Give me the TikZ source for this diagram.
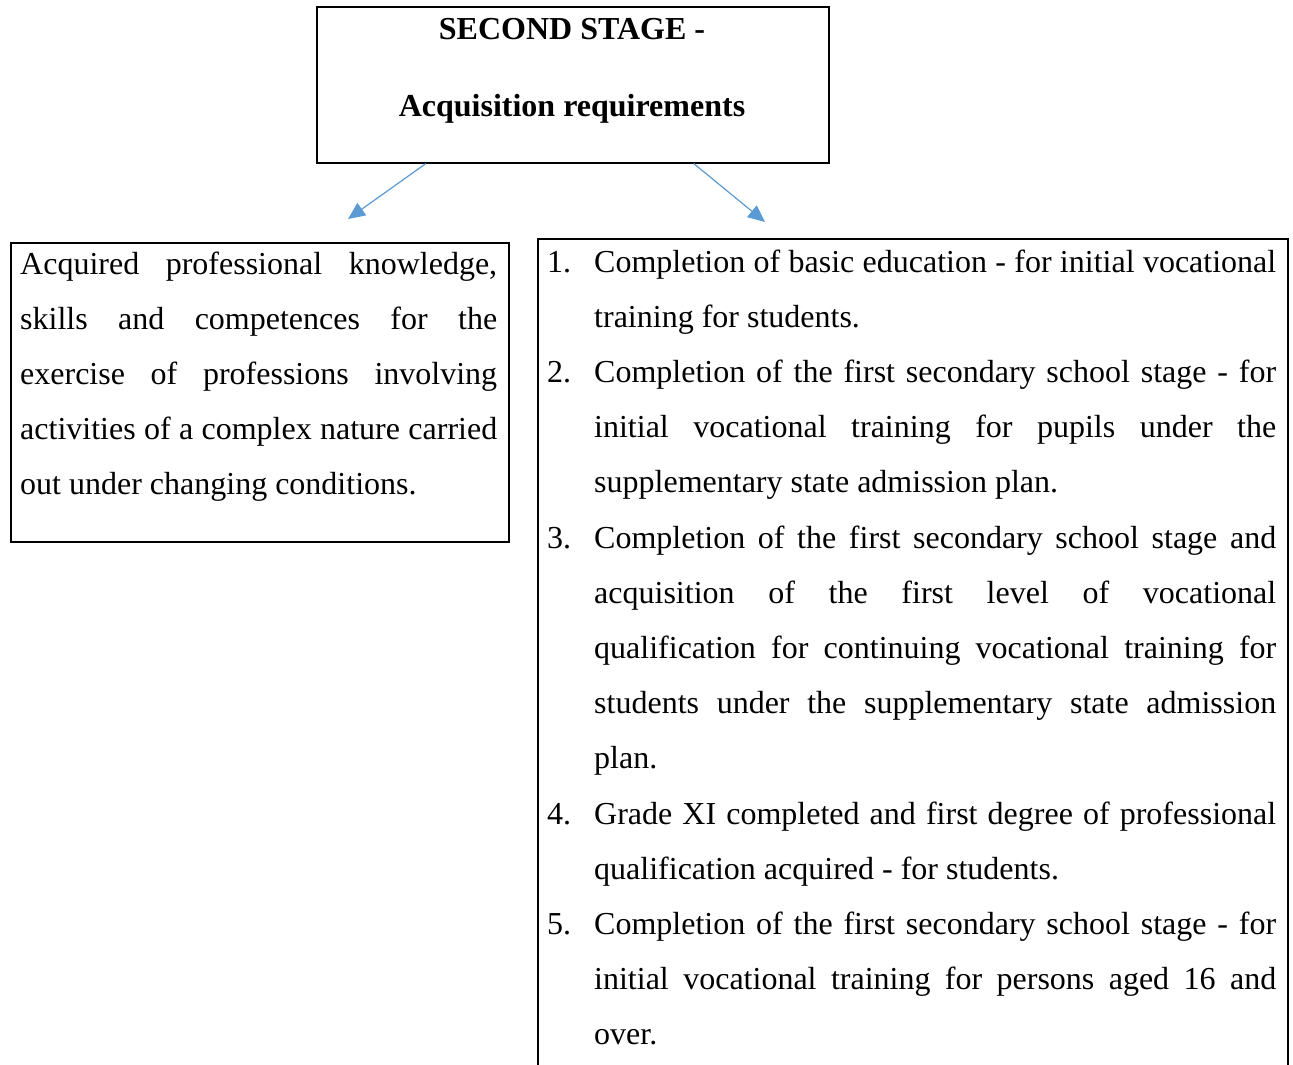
\documentclass[tikz,border=0pt]{standalone}
\usepackage{fontspec}
\setmainfont{Liberation Serif}
\usetikzlibrary{arrows.meta}
\begin{document}
\begin{tikzpicture}[x=1pt,y=-1pt,
  box/.style={draw=black,line width=1.6pt,rectangle,inner sep=0pt,anchor=north west},
  txt/.style={inner sep=0pt,anchor=base west,align=justify,font=\fontsize{32}{55.2}\selectfont},
  num/.style={inner sep=0pt,anchor=base west,font=\fontsize{32}{55.2}\selectfont},
  ttl/.style={inner sep=0pt,anchor=base,font=\fontsize{32}{40}\selectfont\bfseries},
  arr/.style={draw={rgb,255:red,91;green,155;blue,213},line width=1.2pt,
    -{Triangle[length=17pt,width=15pt]}}]
\clip (0,0) rectangle (1293,1065);
\fill[white] (0,0) rectangle (1293,1065);
% boxes
\node[box,minimum width=512pt,minimum height=156pt] (top) at (316,6) {};
\node[box,minimum width=498pt,minimum height=299pt] (left) at (10,242) {};
\node[box,minimum width=750pt,minimum height=900pt] (right) at (537,238) {};
% title
\node[ttl] (t1) at (572,40) {SECOND STAGE -};
\node[ttl] (t2) at (572,116) {Acquisition requirements};
% left text
\node[txt,text width=477pt] (ltext) at (20,274) {Acquired professional knowledge,\linebreak
skills and competences for the\linebreak
exercise of professions involving\linebreak
activities of a complex nature carried\linebreak
out under changing conditions.};
% right list
\node[num] (n1) at (547,272) {1.};
\node[txt,text width=682pt] (i1) at (594,272) {Completion of basic education - for initial vocational\linebreak
training for students.};
\node[num] (n2) at (547,382) {2.};
\node[txt,text width=682pt] (i2) at (594,382) {Completion of the first secondary school stage - for\linebreak
initial vocational training for pupils under the\linebreak
supplementary state admission plan.};
\node[num] (n3) at (547,548) {3.};
\node[txt,text width=682pt] (i3) at (594,548) {Completion of the first secondary school stage and\linebreak
acquisition of the first level of vocational\linebreak
qualification for continuing vocational training for\linebreak
students under the supplementary state admission\linebreak
plan.};
\node[num] (n4) at (547,824) {4.};
\node[txt,text width=682pt] (i4) at (594,824) {Grade XI completed and first degree of professional\linebreak
qualification acquired - for students.};
\node[num] (n5) at (547,934) {5.};
\node[txt,text width=682pt] (i5) at (594,934) {Completion of the first secondary school stage - for\linebreak
initial vocational training for persons aged 16 and\linebreak
over.};
% arrows
\coordinate (e1) at (348,219);
\coordinate (e2) at (765,222);
\draw[arr] ([xshift=-147pt]top.south) -- (e1);
\draw[arr] ([xshift=121pt]top.south) -- (e2);
\end{tikzpicture}
\end{document}
